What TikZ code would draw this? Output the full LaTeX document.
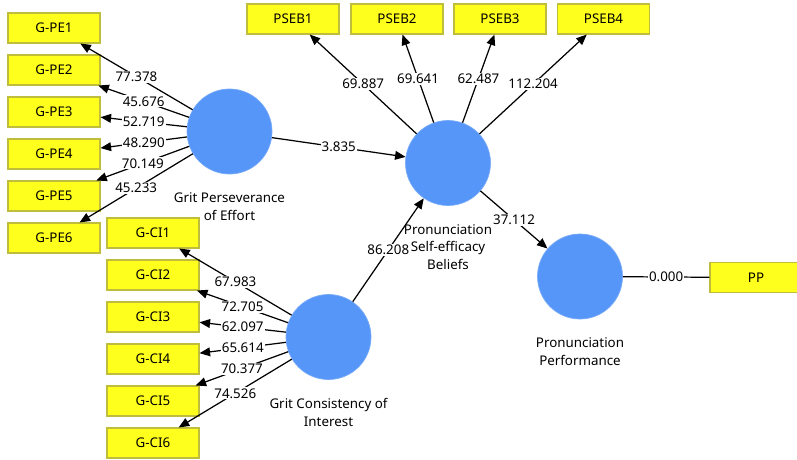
\documentclass[tikz,border=0pt]{standalone}
\usepackage{fontspec}
\setmainfont{Noto Sans}
\usetikzlibrary{arrows.meta,positioning}
\definecolor{indyellow}{RGB}{255,255,30}
\definecolor{indborder}{RGB}{190,190,60}
\definecolor{latblue}{RGB}{86,150,248}

\begin{document}
\begin{tikzpicture}[
    font=\fontsize{7.6}{10.2}\selectfont,
    indicator/.style={rectangle, draw=indborder, fill=indyellow, line width=0.6pt, minimum width=1.84cm, minimum height=0.6cm, inner sep=0pt},
    latent/.style={circle, fill=latblue, draw=latblue!80!white, minimum size=1.7cm, inner sep=0pt},
    latname/.style={align=center, inner sep=0pt},
    arrow/.style={-{Triangle[length=6pt,width=5pt]}, line width=0.7pt},
    coef/.style={fill=white, inner sep=0.6pt, pos=0.5}
]
\useasboundingbox (0,0) rectangle (15.94,-9.18);

% Constructos
\node[latent] (gpe)  at (4.59,-2.63) {};
\node[latent] (pseb) at (8.96,-3.26) {};
\node[latent] (pp)   at (11.60,-5.53) {};
\node[latent] (gci)  at (6.57,-6.74) {};

\node[latname, below=0.36cm of gpe]  (gpename)  {Grit Perseverance\\of Effort};
\node[latname, below=0.36cm of pseb] (psebname) {Pronunciation\\Self-efficacy\\Beliefs};
\node[latname, below=0.36cm of pp]   (ppname)   {Pronunciation\\Performance};
\node[latname, below=0.36cm of gci]  (gciname)  {Grit Consistency of\\Interest};

% G-PE indicadores
\node[indicator] (pe1) at (1.08,-0.56) {G-PE1};
\node[indicator] (pe2) at (1.08,-1.40) {G-PE2};
\node[indicator] (pe3) at (1.08,-2.24) {G-PE3};
\node[indicator] (pe4) at (1.08,-3.08) {G-PE4};
\node[indicator] (pe5) at (1.08,-3.92) {G-PE5};
\node[indicator] (pe6) at (1.08,-4.76) {G-PE6};

% G-CI indicadores
\node[indicator] (ci1) at (3.06,-4.66) {G-CI1};
\node[indicator] (ci2) at (3.06,-5.50) {G-CI2};
\node[indicator] (ci3) at (3.06,-6.34) {G-CI3};
\node[indicator] (ci4) at (3.06,-7.18) {G-CI4};
\node[indicator] (ci5) at (3.06,-8.02) {G-CI5};
\node[indicator] (ci6) at (3.06,-8.86) {G-CI6};

% PSEB indicadores
\node[indicator] (pseb1) at (5.86,-0.38) {PSEB1};
\node[indicator] (pseb2) at (7.94,-0.38) {PSEB2};
\node[indicator] (pseb3) at (10.00,-0.38) {PSEB3};
\node[indicator] (pseb4) at (12.07,-0.38) {PSEB4};

% PP indicador
\node[indicator] (ppind) at (15.12,-5.55) {PP};

% G-PE cargas
\draw[arrow] (gpe) -- node[coef] {77.378} (pe1);
\draw[arrow] (gpe) -- node[coef] {45.676} (pe2);
\draw[arrow] (gpe) -- node[coef] {52.719} (pe3);
\draw[arrow] (gpe) -- node[coef] {48.290} (pe4);
\draw[arrow] (gpe) -- node[coef] {70.149} (pe5);
\draw[arrow] (gpe) -- node[coef] {45.233} (pe6);

% G-CI cargas
\draw[arrow] (gci) -- node[coef] {67.983} (ci1);
\draw[arrow] (gci) -- node[coef] {72.705} (ci2);
\draw[arrow] (gci) -- node[coef] {62.097} (ci3);
\draw[arrow] (gci) -- node[coef] {65.614} (ci4);
\draw[arrow] (gci) -- node[coef] {70.377} (ci5);
\draw[arrow] (gci) -- node[coef] {74.526} (ci6);

% PSEB cargas
\draw[arrow] (pseb) -- node[coef] {69.887} (pseb1);
\draw[arrow] (pseb) -- node[coef] {69.641} (pseb2);
\draw[arrow] (pseb) -- node[coef] {62.487} (pseb3);
\draw[arrow] (pseb) -- node[coef] {112.204} (pseb4);

% Caminos
\draw[arrow] (gpe) -- node[coef] {3.835} (pseb);
\draw[arrow] (gci) -- node[coef] {86.208} (pseb);
\draw[arrow] (pseb) -- node[coef] {37.112} (pp);
\draw[line width=0.7pt] (pp) -- node[coef] {0.000} (ppind);

\end{tikzpicture}
\end{document}
